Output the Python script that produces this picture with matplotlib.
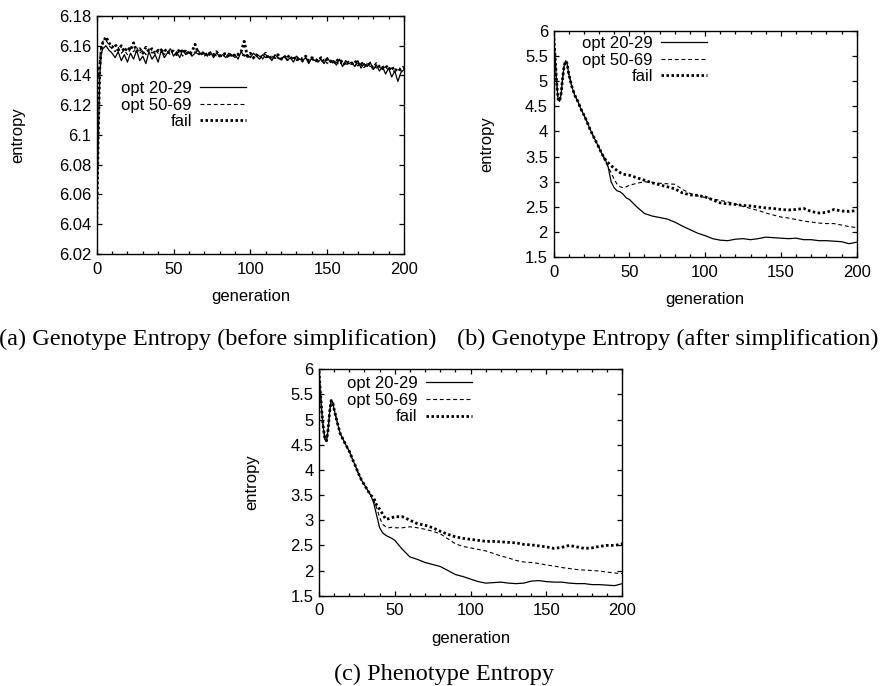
import matplotlib
matplotlib.use("Agg")
import matplotlib.pyplot as plt
from matplotlib.ticker import MultipleLocator, FuncFormatter

plt.rcParams['font.family'] = ['Liberation Sans', 'DejaVu Sans']
plt.rcParams['font.size'] = 12

# ---------------- data: panel (a) genotype entropy before simplification
gen_a = [0, 1, 2, 3, 4] + list(range(6, 201, 2))
a_opt20 = [6.040, 6.095, 6.140, 6.155, 6.158,
           6.160, 6.157, 6.155, 6.152, 6.156, 6.150, 6.154, 6.149, 6.155, 6.151,
           6.157, 6.150, 6.153, 6.148, 6.156, 6.151, 6.154, 6.149, 6.157, 6.152,
           6.155, 6.158, 6.153, 6.156, 6.152, 6.157, 6.154, 6.156, 6.153, 6.155,
           6.157, 6.154, 6.155, 6.153, 6.156, 6.152, 6.155, 6.153, 6.154, 6.152,
           6.155, 6.153, 6.154, 6.151, 6.156, 6.153, 6.154, 6.152, 6.155, 6.153,
           6.151, 6.154, 6.152, 6.153, 6.150, 6.154, 6.152, 6.151, 6.153, 6.150,
           6.152, 6.149, 6.153, 6.151, 6.150, 6.152, 6.148, 6.152, 6.150, 6.149,
           6.151, 6.148, 6.152, 6.149, 6.150, 6.147, 6.151, 6.146, 6.150, 6.148,
           6.149, 6.146, 6.150, 6.145, 6.148, 6.146, 6.149, 6.144, 6.147, 6.143,
           6.146, 6.141, 6.145, 6.139, 6.143, 6.136, 6.142, 6.144]
a_opt50 = [6.130, 6.140, 6.152, 6.160, 6.163,
           6.164, 6.160, 6.158, 6.156, 6.159, 6.155, 6.157, 6.154, 6.158, 6.156,
           6.159, 6.155, 6.157, 6.154, 6.158, 6.155, 6.157, 6.155, 6.158, 6.154,
           6.156, 6.154, 6.157, 6.155, 6.156, 6.153, 6.157, 6.155, 6.154, 6.156,
           6.154, 6.155, 6.153, 6.156, 6.154, 6.155, 6.153, 6.154, 6.152, 6.155,
           6.153, 6.154, 6.152, 6.155, 6.153, 6.154, 6.152, 6.153, 6.151, 6.154,
           6.153, 6.151, 6.154, 6.152, 6.153, 6.151, 6.152, 6.150, 6.153, 6.151,
           6.150, 6.152, 6.150, 6.151, 6.149, 6.152, 6.150, 6.151, 6.149, 6.150,
           6.149, 6.151, 6.148, 6.150, 6.148, 6.149, 6.147, 6.150, 6.148, 6.147,
           6.148, 6.146, 6.149, 6.147, 6.146, 6.148, 6.146, 6.147, 6.145, 6.146,
           6.144, 6.146, 6.143, 6.145, 6.142, 6.144, 6.143, 6.145]
a_fail = [6.040, 6.100, 6.145, 6.158, 6.162,
          6.166, 6.162, 6.159, 6.161, 6.157, 6.160, 6.156, 6.159, 6.157, 6.162,
          6.156, 6.158, 6.155, 6.159, 6.156, 6.158, 6.155, 6.157, 6.156, 6.158,
          6.155, 6.157, 6.156, 6.154, 6.158, 6.155, 6.157, 6.154, 6.156, 6.161,
          6.155, 6.154, 6.156, 6.153, 6.155, 6.154, 6.156, 6.153, 6.154, 6.155,
          6.152, 6.155, 6.153, 6.154, 6.156, 6.163, 6.153, 6.155, 6.152, 6.154,
          6.152, 6.153, 6.155, 6.151, 6.153, 6.152, 6.154, 6.151, 6.152, 6.154,
          6.151, 6.153, 6.150, 6.152, 6.151, 6.153, 6.150, 6.152, 6.151, 6.150,
          6.152, 6.149, 6.151, 6.150, 6.148, 6.151, 6.149, 6.150, 6.147, 6.149,
          6.148, 6.150, 6.147, 6.149, 6.146, 6.148, 6.147, 6.145, 6.148, 6.146,
          6.145, 6.147, 6.144, 6.146, 6.143, 6.145, 6.144, 6.146]

# ---------------- data: panel (b) genotype entropy after simplification
gen_early = [0, 1, 2, 3, 4, 5, 6, 7, 8, 9, 10, 12, 14, 16, 18, 20, 22, 24, 26, 28, 30, 32, 34]
gen_late = [36, 38, 40, 42, 44, 46, 48, 50] + list(range(55, 201, 5))
gen_bc = gen_early + gen_late

b_early = [5.95, 5.50, 5.00, 4.65, 4.60, 4.75, 5.05, 5.30, 5.40, 5.35, 5.15, 4.90,
           4.72, 4.60, 4.45, 4.33, 4.20, 4.05, 3.92, 3.80, 3.68, 3.55, 3.45]
b_opt20 = b_early + [3.30, 3.00, 2.88, 2.82, 2.80, 2.75, 2.68, 2.65,
                     2.50, 2.37, 2.32, 2.29, 2.26, 2.20, 2.12, 2.05, 1.98, 1.93,
                     1.87, 1.84, 1.83, 1.86, 1.87, 1.85, 1.87, 1.90, 1.89, 1.88,
                     1.87, 1.88, 1.85, 1.85, 1.83, 1.83, 1.82, 1.81, 1.77, 1.80]
b_opt50 = b_early[:-1] + [3.40, 3.30, 3.18, 3.05, 2.95, 2.90, 2.88, 2.90, 2.93,
                          2.97, 3.00, 2.99, 2.97, 2.96, 2.95, 2.85, 2.77, 2.72, 2.69,
                          2.66, 2.63, 2.60, 2.56, 2.51, 2.47, 2.43, 2.38, 2.34, 2.30,
                          2.28, 2.25, 2.22, 2.20, 2.18, 2.17, 2.17, 2.14, 2.11, 2.09]
b_fail = b_early + [3.38, 3.32, 3.27, 3.22, 3.18, 3.15, 3.14, 3.13,
                    3.08, 3.03, 2.98, 2.94, 2.90, 2.86, 2.78, 2.74, 2.73, 2.70,
                    2.64, 2.58, 2.56, 2.55, 2.53, 2.52, 2.50, 2.48, 2.47, 2.45,
                    2.44, 2.45, 2.47, 2.41, 2.38, 2.39, 2.45, 2.42, 2.41, 2.43]

# ---------------- data: panel (c) phenotype entropy
c_early = [5.97, 5.50, 5.10, 4.80, 4.60, 4.58, 4.80, 5.15, 5.38, 5.35, 5.20, 4.95,
           4.72, 4.60, 4.48, 4.37, 4.22, 4.08, 3.93, 3.80, 3.70, 3.60, 3.50]
c_opt20 = c_early + [3.35, 3.10, 2.85, 2.75, 2.70, 2.67, 2.64, 2.60,
                     2.42, 2.27, 2.22, 2.16, 2.12, 2.08, 2.00, 1.92, 1.88, 1.83,
                     1.78, 1.75, 1.76, 1.77, 1.75, 1.74, 1.75, 1.79, 1.80, 1.78,
                     1.77, 1.77, 1.75, 1.74, 1.74, 1.72, 1.72, 1.71, 1.70, 1.74]
c_opt50 = c_early + [3.40, 3.25, 3.05, 2.92, 2.87, 2.85, 2.86, 2.85,
                     2.85, 2.87, 2.85, 2.82, 2.78, 2.73, 2.63, 2.53, 2.48, 2.45,
                     2.42, 2.39, 2.34, 2.29, 2.25, 2.20, 2.17, 2.16, 2.14, 2.11,
                     2.09, 2.06, 2.04, 2.02, 2.01, 2.00, 1.99, 1.97, 1.95, 1.94]
c_fail = c_early + [3.45, 3.30, 3.22, 3.12, 3.02, 3.03, 3.05, 3.07,
                    3.07, 3.00, 2.93, 2.90, 2.85, 2.78, 2.72, 2.67, 2.64, 2.62,
                    2.60, 2.58, 2.58, 2.57, 2.56, 2.55, 2.52, 2.51, 2.49, 2.47,
                    2.44, 2.46, 2.50, 2.47, 2.44, 2.45, 2.48, 2.50, 2.50, 2.53]

series_labels = ["opt 20-29", "opt 50-69", "fail"]
captions = ["(a) Genotype Entropy (before simplification)",
            "(b) Genotype Entropy (after simplification)",
            "(c) Phenotype Entropy"]

# ---------------- styles
W, H = 888, 686
styles = [dict(color='black', lw=0.9, ls='-'),
          dict(color='black', lw=0.8, ls=(0, (3.5, 2.5))),
          dict(color='black', lw=2.0, ls=(0, (0.9, 0.9)))]

fig = plt.figure(figsize=(W / 100, H / 100), dpi=100)


def px_axes(l, r, t, b):
    return fig.add_axes([l / W, 1 - b / H, (r - l) / W, (b - t) / H])


def style_axes(ax, ylim, ymajor, fmt, ylab_x, xlab_y, leg_anchor):
    ax.set_xlim(0, 200)
    ax.set_ylim(*ylim)
    ax.xaxis.set_major_locator(MultipleLocator(50))
    ax.xaxis.set_minor_locator(MultipleLocator(10))
    ax.yaxis.set_major_locator(MultipleLocator(ymajor))
    ax.yaxis.set_major_formatter(FuncFormatter(fmt))
    ax.tick_params(which='both', direction='in', top=True, right=True, width=0.9)
    ax.tick_params(which='major', length=3.5)
    ax.tick_params(which='minor', length=2.0)
    ax.tick_params(axis='x', pad=5.5)
    ax.tick_params(axis='y', pad=4)
    for sp in ax.spines.values():
        sp.set_linewidth(1.0)
    ax.set_xlabel("generation")
    ax.set_ylabel("entropy")
    ax.xaxis.set_label_coords(0.5, xlab_y)
    ax.xaxis.label.set_va('center')
    ax.yaxis.set_label_coords(ylab_x, 0.5)
    ax.yaxis.label.set_va('center')
    ax.legend(loc='upper right', bbox_to_anchor=leg_anchor, frameon=False,
              markerfirst=False, borderpad=0, borderaxespad=0,
              handlelength=2.75, handletextpad=0.5, labelspacing=0.1,
              fontsize=12)


def fmt_g(v, pos):
    return "%g" % round(v, 4)


# panel (a)
ax_a = px_axes(96.7, 404, 16, 254)
for ys, st, lab in zip([a_opt20, a_opt50, a_fail], styles, series_labels):
    ax_a.plot(gen_a, ys, label=lab, **st)
style_axes(ax_a, (6.02, 6.18), 0.02, fmt_g, -0.256, -0.179, (0.486, 0.727))

# panel (b)
ax_b = px_axes(553.5, 856.7, 30.7, 257.3)
gen_b50 = gen_early[:-1] + [34] + gen_late
for xs, ys, st, lab in zip([gen_bc, gen_b50, gen_bc], [b_opt20, b_opt50, b_fail], styles, series_labels):
    ax_b.plot(xs, ys, label=lab, **st)
style_axes(ax_b, (1.5, 6.0), 0.5, fmt_g, -0.219, -0.188, (0.506, 0.977))

# panel (c)
ax_c = px_axes(319, 622.3, 369.3, 595.7)
for ys, st, lab in zip([c_opt20, c_opt50, c_fail], styles, series_labels):
    ax_c.plot(gen_bc, ys, label=lab, **st)
style_axes(ax_c, (1.5, 6.0), 0.5, fmt_g, -0.221, -0.188, (0.503, 0.970))

# captions
cap_font = dict(family=['Liberation Serif', 'DejaVu Serif'], fontsize=17.5, va='baseline', ha='center')
fig.text(218 / W, 1 - 345 / H, captions[0], **cap_font)
fig.text(668 / W, 1 - 345 / H, captions[1], **cap_font)
fig.text(444 / W, 1 - 680 / H, captions[2], **cap_font)

fig.savefig("out.png", dpi=100)
